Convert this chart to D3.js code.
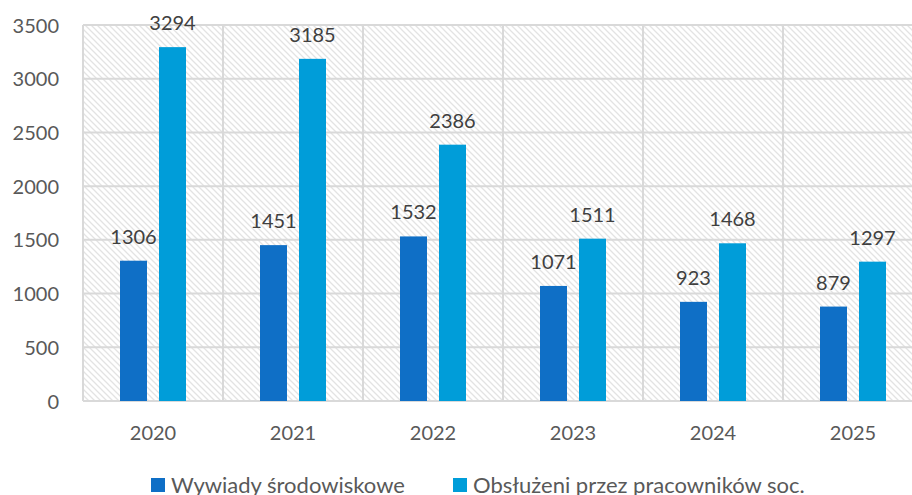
<!DOCTYPE html>
<html>
<head>
<meta charset="utf-8">
<script src="https://cdn.jsdelivr.net/npm/d3@7"></script>
<style>
body { margin:0; background:#fff; }
text { font-family: Lato, "Open Sans", sans-serif; }
.tick text { fill:#595959; font-size:20px; }
.label { fill:#404040; font-size:20px; }
.legend text { fill:#595959; font-size:22px; }
</style>
</head>
<body>
<svg id="chart"></svg>
<script>
var years = ["2020","2021","2022","2023","2024","2025"]
var wywiady = [1306,1451,1532,1071,923,879]
var obsluzeni = [3294,3185,2386,1511,1468,1297]
var seriesNames = ["Wywiady środowiskowe","Obsłużeni przez pracowników soc."]
var yTicks = [0,500,1000,1500,2000,2500,3000,3500]

var colors = ["#0f6fc6","#009dd9"]

var screen = {width:912,height:495}
var plot = {left:83,right:923,top:25,bottom:401}

var svg = d3.select("#chart")
    .attr("width",screen.width)
    .attr("height",screen.height)

var defs = svg.append("defs")
var pat = defs.append("pattern")
    .attr("id","hatch")
    .attr("patternUnits","userSpaceOnUse")
    .attr("width",6)
    .attr("height",6)
pat.append("path")
    .attr("d","M-1,-1 L7,7 M-1,5 L1,7 M5,-1 L7,1")
    .attr("stroke","#e3e3e3")
    .attr("stroke-width",1.3)

var xScale = d3.scaleBand()
    .domain(years)
    .range([plot.left,plot.right])

var yScale = d3.scaleLinear()
    .domain([0,3500])
    .range([plot.bottom,plot.top])

// background
svg.append("rect")
    .attr("x",plot.left)
    .attr("y",plot.top)
    .attr("width",plot.right-plot.left)
    .attr("height",plot.bottom-plot.top)
    .attr("fill","url(#hatch)")

// horizontal grid
svg.append("g")
    .selectAll("line")
    .data(yTicks)
    .enter()
    .append("line")
    .attr("x1",plot.left)
    .attr("x2",plot.right)
    .attr("y1",function(d){return yScale(d)})
    .attr("y2",function(d){return yScale(d)})
    .attr("stroke","#d9d9d9")
    .attr("stroke-width",2)

// vertical grid at category edges
svg.append("g")
    .selectAll("line")
    .data(years)
    .enter()
    .append("line")
    .attr("x1",function(d){return xScale(d)})
    .attr("x2",function(d){return xScale(d)})
    .attr("y1",plot.top)
    .attr("y2",plot.bottom)
    .attr("stroke","#d9d9d9")
    .attr("stroke-width",2)

var yAxis = d3.axisLeft(yScale).tickValues(yTicks).tickFormat(d3.format("d")).tickSize(0).tickPadding(24)
var gy = svg.append("g")
    .attr("transform","translate("+plot.left+",0)")
    .call(yAxis)
gy.select(".domain").remove()
gy.selectAll("text").attr("dy","0.35em")

var xAxis = d3.axisBottom(xScale).tickSize(0).tickPadding(25)
var gx = svg.append("g")
    .attr("transform","translate(0,"+plot.bottom+")")
    .call(xAxis)
gx.select(".domain").remove()

var barW = 27
var gap = 12
var series = [wywiady,obsluzeni]

series.forEach(function(vals,si)
{
    var offset = xScale.bandwidth()/2 - gap/2 - barW + si*(barW+gap)
    var g = svg.append("g")
    g.selectAll("rect")
    .data(vals)
    .enter()
    .append("rect")
    .attr("x",function(d,i){return xScale(years[i])+offset})
    .attr("y",function(d){return yScale(d)})
    .attr("width",barW)
    .attr("height",function(d){return plot.bottom-yScale(d)})
    .attr("fill",colors[si])

    g.selectAll("text")
    .data(vals)
    .enter()
    .append("text")
    .classed("label",true)
    .attr("text-anchor","middle")
    .attr("x",function(d,i){return xScale(years[i])+offset+barW/2})
    .attr("y",function(d){return yScale(d)-17})
    .text(function(d){return d})
})

var legend = svg.append("g").classed("legend",true)
var legX = [151,453]
seriesNames.forEach(function(name,i)
{
    legend.append("rect")
    .attr("x",legX[i])
    .attr("y",478)
    .attr("width",14)
    .attr("height",14)
    .attr("fill",colors[i])
    legend.append("text")
    .attr("x",legX[i]+20)
    .attr("y",493)
    .text(name)
})
</script>
</body>
</html>
